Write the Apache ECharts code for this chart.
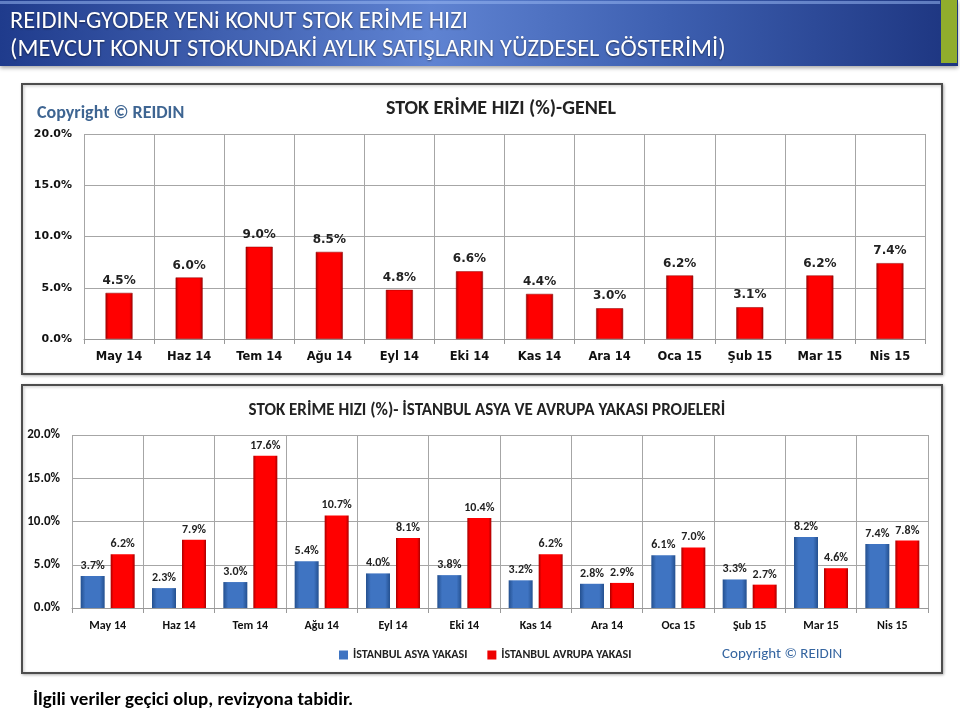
<!DOCTYPE html>
<html>
<head>
<meta charset="utf-8">
<script src="https://cdn.jsdelivr.net/npm/echarts@6/dist/echarts.min.js"></script>
<style>
  html, body { margin: 0; padding: 0; background: #fff; }
  #chart { width: 960px; height: 709px; }
</style>
</head>
<body>
<div id="chart"></div>
<script>
var months = ['May 14', 'Haz 14', 'Tem 14', 'Ağu 14', 'Eyl 14', 'Eki 14', 'Kas 14', 'Ara 14', 'Oca 15', 'Şub 15', 'Mar 15', 'Nis 15'];
var genel = [4.5, 6.0, 9.0, 8.5, 4.8, 6.6, 4.4, 3.0, 6.2, 3.1, 6.2, 7.4];
var asya = [3.7, 2.3, 3.0, 5.4, 4.0, 3.8, 3.2, 2.8, 6.1, 3.3, 8.2, 7.4];
var avrupa = [6.2, 7.9, 17.6, 10.7, 8.1, 10.4, 6.2, 2.9, 7.0, 2.7, 4.6, 7.8];
var yTicks = [0, 5, 10, 15, 20];

var calibri = 'Carlito, "Liberation Sans Narrow", "Open Sans", sans-serif';
var verdana = '"DejaVu Sans", Verdana, sans-serif';

function pct(v) { return v.toFixed(1) + '%'; }

var red = new echarts.graphic.LinearGradient(0, 0, 1, 0, [
  { offset: 0, color: '#a80000' },
  { offset: 0.12, color: '#ff0000' },
  { offset: 0.88, color: '#ff0000' },
  { offset: 1, color: '#a80000' }
]);
var blue = new echarts.graphic.LinearGradient(0, 0, 1, 0, [
  { offset: 0, color: '#24508f' },
  { offset: 0.2, color: '#3f74c2' },
  { offset: 0.8, color: '#3f74c2' },
  { offset: 1, color: '#24508f' }
]);

function yAxis(gi, font) {
  return {
    type: 'value', gridIndex: gi, min: yTicks[0], max: yTicks[yTicks.length - 1], interval: 5,
    axisLine: { show: false }, axisTick: { show: false },
    splitLine: { lineStyle: { color: '#a6a6a6', width: 1 } },
    axisLabel: { formatter: pct, color: '#111', fontWeight: 'bold', fontSize: font.size, fontFamily: font.family, margin: 12 }
  };
}
function xAxis(gi, font) {
  return {
    type: 'category', gridIndex: gi, data: months,
    axisLine: { lineStyle: { color: '#999' } },
    axisTick: { show: true, length: 5, lineStyle: { color: '#999' } },
    splitLine: { show: true, interval: 0, lineStyle: { color: '#a6a6a6' } },
    axisLabel: { color: '#111', fontWeight: 'bold', fontSize: font.size, fontFamily: font.family, margin: 12, interval: 0 }
  };
}

var chart = echarts.init(document.getElementById('chart'), null, { renderer: 'canvas' });
chart.setOption({
  animation: false,
  title: [
    { text: 'REIDIN-GYODER YENi KONUT STOK ERİME HIZI\n(MEVCUT KONUT STOKUNDAKİ AYLIK SATIŞLARIN YÜZDESEL GÖSTERİMİ)',
      left: 5, top: 3,
      textStyle: { color: '#fff', fontSize: 24.5, fontWeight: 'normal', fontFamily: calibri, lineHeight: 28,
        textShadowColor: 'rgba(0,0,0,0.5)', textShadowBlur: 2, textShadowOffsetY: 1 } },
    { text: 'STOK ERİME HIZI (%)-GENEL', left: 496, top: 94, textAlign: 'center',
      textStyle: { color: '#222', fontSize: 20, fontWeight: 'bold', fontFamily: calibri } },
    { text: 'Copyright © REIDIN', left: 32, top: 99,
      textStyle: { color: '#3e6592', fontSize: 18, fontWeight: 'bold', fontFamily: calibri } },
    { text: 'STOK ERİME HIZI (%)- İSTANBUL ASYA VE AVRUPA YAKASI PROJELERİ', left: 482, top: 397, textAlign: 'center',
      textStyle: { color: '#222', fontSize: 17, fontWeight: 'bold', fontFamily: calibri } },
    { text: 'Copyright © REIDIN', left: 717, top: 642,
      textStyle: { color: '#3565a0', fontSize: 15, fontWeight: 'normal', fontFamily: calibri } },
    { text: 'İlgili veriler geçici olup, revizyona tabidir.', left: 28, top: 686,
      textStyle: { color: '#000', fontSize: 19, fontWeight: 'bold', fontFamily: calibri } }
  ],
  graphic: [
    { type: 'rect', z: -10, shape: { x: 0, y: 0, width: 958, height: 66 },
      style: { fill: new echarts.graphic.LinearGradient(0, 0, 1, 0, [
        { offset: 0, color: '#1f3b8c' },
        { offset: 0.45, color: '#5f83d2' },
        { offset: 0.7, color: '#3d5fb0' },
        { offset: 1, color: '#1d3580' }
      ]), shadowColor: 'rgba(0,0,0,0.35)', shadowBlur: 4, shadowOffsetY: 2 } },
    { type: 'rect', z: -9, shape: { x: 0, y: 1, width: 940, height: 3 },
      style: { fill: 'rgba(150,180,240,0.55)' } },
    { type: 'rect', z: -8, shape: { x: 941, y: 0, width: 16, height: 63 },
      style: { fill: '#90ad2c' } },
    { type: 'rect', z: -10, shape: { x: 22, y: 84, width: 920, height: 290 },
      style: { fill: '#fff', stroke: '#4d4d4d', lineWidth: 2, shadowColor: 'rgba(0,0,0,0.25)', shadowBlur: 3, shadowOffsetX: 1, shadowOffsetY: 1 } },
    { type: 'rect', z: -10, shape: { x: 22, y: 385, width: 920, height: 288 },
      style: { fill: '#fff', stroke: '#4d4d4d', lineWidth: 2, shadowColor: 'rgba(0,0,0,0.25)', shadowBlur: 3, shadowOffsetX: 1, shadowOffsetY: 1 } }
  ],
  legend: {
    left: 334, top: 644, itemWidth: 9, itemHeight: 9, itemGap: 20, icon: 'rect',
    data: [
      { name: 'İSTANBUL ASYA YAKASI', itemStyle: { color: '#3f74c2' } },
      { name: 'İSTANBUL AVRUPA YAKASI', itemStyle: { color: '#ee0000' } }
    ],
    textStyle: { color: '#222', fontWeight: 'bold', fontSize: 12, fontFamily: calibri }
  },
  grid: [
    { left: 84, right: 35, top: 134, bottom: 370 },
    { left: 72, right: 32, top: 435, bottom: 101 }
  ],
  xAxis: [xAxis(0, { size: 11.5, family: verdana }), xAxis(1, { size: 12, family: calibri })],
  yAxis: [yAxis(0, { size: 11, family: verdana }), yAxis(1, { size: 13, family: calibri })],
  series: [
    { name: 'GENEL', type: 'bar', xAxisIndex: 0, yAxisIndex: 0, data: genel, barWidth: 27,
      itemStyle: { color: red, borderColor: '#8a0000', borderWidth: 0.5 },
      label: { show: true, position: 'top', distance: 6, formatter: function (p) { return pct(p.value); },
        color: '#222', fontWeight: 'bold', fontSize: 12, fontFamily: verdana } },
    { name: 'İSTANBUL ASYA YAKASI', type: 'bar', xAxisIndex: 1, yAxisIndex: 1, data: asya, barWidth: 24, barGap: '25%',
      itemStyle: { color: blue },
      label: { show: true, position: 'top', distance: 4, formatter: function (p) { return pct(p.value); },
        color: '#222', fontWeight: 'bold', fontSize: 12, fontFamily: calibri } },
    { name: 'İSTANBUL AVRUPA YAKASI', type: 'bar', xAxisIndex: 1, yAxisIndex: 1, data: avrupa, barWidth: 24, barGap: '25%',
      itemStyle: { color: red },
      label: { show: true, position: 'top', distance: 4, formatter: function (p) { return pct(p.value); },
        color: '#222', fontWeight: 'bold', fontSize: 12, fontFamily: calibri } }
  ]
});
</script>
</body>
</html>
